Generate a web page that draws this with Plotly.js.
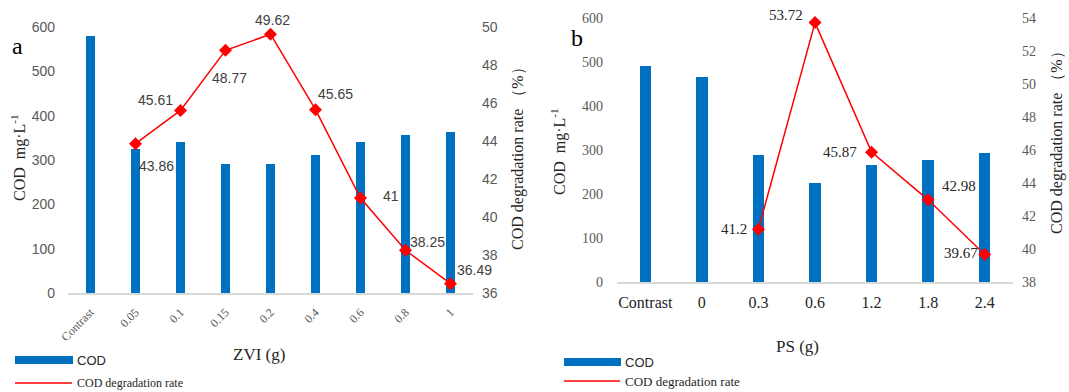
<!DOCTYPE html>
<html>
<head>
<meta charset="utf-8">
<script src="https://cdn.plot.ly/plotly-3.0.1.min.js"></script>
<style>html,body{margin:0;padding:0;background:#fff;}#chart{width:1069px;height:392px;}</style>
</head>
<body>
<div id="chart"></div>
<script>
// ---- Panel a data ----
const zviCategories = ["Contrast", "0.05", "0.1", "0.15", "0.2", "0.4", "0.6", "0.8", "1"];
const zviCOD = [580, 325, 340, 292, 290, 311, 340, 356, 364];
const zviRateCategories = ["0.05", "0.1", "0.15", "0.2", "0.4", "0.6", "0.8", "1"];
const zviRate = [43.86, 45.61, 48.77, 49.62, 45.65, 41, 38.25, 36.49];
const zviTickLabels = ["Contrast", "0.05", "0.1", "0.15", "0.2", "0.4", "0.6", "0.8", "1"];

// ---- Panel b data ----
const psCategories = ["Contrast", "0", "0.3", "0.6", "1.2", "1.8", "2.4"];
const psCOD = [490, 467, 288, 224, 265, 278, 293];
const psRateCategories = ["0.3", "0.6", "1.2", "1.8", "2.4"];
const psRate = [41.2, 53.72, 45.87, 42.98, 39.67];

const W = 1069, H = 392;
const px = v => v / W;
const py = v => (H - v) / H;

const blue = "#0070C0";
const red = "#FF0000";
const tickGrey = "#595959";
const sans = "Liberation Sans, Arial, sans-serif";
const serif = "Liberation Serif, Times New Roman, serif";

// label offsets (pixels, right / down) – styling only
const zviLabelShift = [[21, 22], [-25, -10], [4, 28], [2, -14], [20, -16], [30, -2], [22, -8], [24, -14]];
const psLabelShift = [[-24, 0], [-29, -8], [-32, 0], [31, -14], [-24, -1]];

const traces = [
  {type: "bar", x: zviCategories, y: zviCOD, xaxis: "x", yaxis: "y", width: 0.2,
   marker: {color: blue}, name: "COD", showlegend: false},
  {type: "scatter", mode: "lines+markers", x: zviRateCategories, y: zviRate, xaxis: "x", yaxis: "y2",
   line: {color: red, width: 1.5}, marker: {symbol: "diamond", size: 10, color: red},
   name: "COD degradation rate", showlegend: false, cliponaxis: false},
  {type: "bar", x: psCategories, y: psCOD, xaxis: "x2", yaxis: "y3", width: 0.2,
   marker: {color: blue}, name: "COD", showlegend: false},
  {type: "scatter", mode: "lines+markers", x: psRateCategories, y: psRate, xaxis: "x2", yaxis: "y4",
   line: {color: red, width: 1.5}, marker: {symbol: "diamond", size: 10, color: red},
   name: "COD degradation rate", showlegend: false, cliponaxis: false}
];

function ann(x, y, text, font, extra) {
  return Object.assign({xref: "paper", yref: "paper", x: px(x), y: py(y), text: text, showarrow: false,
    xanchor: "center", yanchor: "middle", font: font}, extra || {});
}

const dataLabels = [];
zviRateCategories.forEach((c, i) => dataLabels.push({
  xref: "x", yref: "y2", x: zviCategories.indexOf(c), y: zviRate[i], text: String(zviRate[i]), showarrow: false,
  xanchor: "center", yanchor: "middle", xshift: zviLabelShift[i][0], yshift: -zviLabelShift[i][1],
  font: {family: sans, size: 14, color: "#404040"}
}));
psRateCategories.forEach((c, i) => dataLabels.push({
  xref: "x2", yref: "y4", x: psCategories.indexOf(c), y: psRate[i], text: String(psRate[i]), showarrow: false,
  xanchor: "center", yanchor: "middle", xshift: psLabelShift[i][0], yshift: -psLabelShift[i][1],
  font: {family: serif, size: 15, color: "#262626"}
}));

const layout = {
  width: W, height: H, autosize: false,
  margin: {l: 0, r: 0, t: 0, b: 0, pad: 0},
  paper_bgcolor: "#fff", plot_bgcolor: "rgba(0,0,0,0)",
  showlegend: false,
  bargap: 0,
  xaxis: {domain: [px(68), px(473)], anchor: "y", type: "category",
          categoryorder: "array", categoryarray: zviCategories,
          range: [-0.5, zviCategories.length - 0.5], autorange: false,
          tickvals: zviCategories, ticktext: zviTickLabels,
          showline: true, linecolor: "#d9d9d9", linewidth: 1.5, showgrid: false, zeroline: false,
          ticks: "", tickangle: -45, tickfont: {family: serif, size: 12, color: tickGrey},
          ticklabelstandoff: 6},
  yaxis: {domain: [py(293), py(27)], anchor: "x", range: [0, 600], autorange: false, dtick: 100,
          showgrid: false, zeroline: false, showline: false, ticks: "",
          tickfont: {family: sans, size: 14, color: tickGrey}, ticklabelstandoff: 12},
  yaxis2: {overlaying: "y", side: "right", anchor: "x", range: [36, 50], autorange: false, dtick: 2,
           showgrid: false, zeroline: false, showline: false, ticks: "",
           tickfont: {family: sans, size: 14, color: tickGrey}, ticklabelstandoff: 8},
  xaxis2: {domain: [px(617), px(1013)], anchor: "y3", type: "category",
           categoryorder: "array", categoryarray: psCategories,
           range: [-0.5, psCategories.length - 0.5], autorange: false,
           showline: true, linecolor: "#d9d9d9", linewidth: 1.5, showgrid: false, zeroline: false,
           ticks: "", tickangle: 0, tickfont: {family: serif, size: 16, color: "#262626"},
           ticklabelstandoff: 5},
  yaxis3: {domain: [py(282), py(18)], anchor: "x2", range: [0, 600], autorange: false, dtick: 100,
           showgrid: false, zeroline: false, showline: false, ticks: "",
           tickfont: {family: serif, size: 14, color: tickGrey}, ticklabelstandoff: 13},
  yaxis4: {overlaying: "y3", side: "right", anchor: "x2", range: [38, 54], autorange: false, dtick: 2,
           showgrid: false, zeroline: false, showline: false, ticks: "",
           tickfont: {family: serif, size: 14, color: tickGrey}, ticklabelstandoff: 8},
  shapes: [
    {type: "rect", xref: "paper", yref: "paper", x0: px(15), x1: px(73), y0: py(364), y1: py(356),
     fillcolor: blue, line: {width: 0}},
    {type: "line", xref: "paper", yref: "paper", x0: px(15), x1: px(72), y0: py(383), y1: py(383),
     line: {color: red, width: 1.5}},
    {type: "rect", xref: "paper", yref: "paper", x0: px(564), x1: px(621), y0: py(366), y1: py(358),
     fillcolor: blue, line: {width: 0}},
    {type: "line", xref: "paper", yref: "paper", x0: px(564), x1: px(620), y0: py(381), y1: py(381),
     line: {color: red, width: 1.5}}
  ],
  annotations: [
    ann(17, 46, "a", {family: serif, size: 24, color: "#000"}),
    ann(577, 38, "b", {family: serif, size: 24, color: "#000"}),
    ann(19, 158, "COD  mg·L<sup>-1</sup>", {family: serif, size: 16, color: "#262626"}, {textangle: -90}),
    ann(518, 155, "COD degradation rate （%）", {family: serif, size: 16, color: "#262626"}, {textangle: -90}),
    ann(558, 152, "COD  mg·L<sup>-1</sup>", {family: serif, size: 16, color: "#262626"}, {textangle: -90}),
    ann(1057, 139, "COD degradation rate （%）", {family: serif, size: 16, color: "#262626"}, {textangle: -90}),
    ann(259, 354, "ZVI (g)", {family: serif, size: 17, color: "#262626"}),
    ann(798, 346, "PS (g)", {family: serif, size: 17, color: "#262626"}),
    ann(75, 360, "COD", {family: sans, size: 13, color: "#262626"}, {xanchor: "left"}),
    ann(75, 383, "COD degradation rate", {family: serif, size: 12, color: "#262626"}, {xanchor: "left"}),
    ann(623, 362, "COD", {family: sans, size: 13, color: "#262626"}, {xanchor: "left"}),
    ann(623, 381, "COD degradation rate", {family: serif, size: 13, color: "#262626"}, {xanchor: "left"})
  ].concat(dataLabels)
};

Plotly.newPlot("chart", traces, layout, {displayModeBar: false, staticPlot: true});
</script>
</body>
</html>
